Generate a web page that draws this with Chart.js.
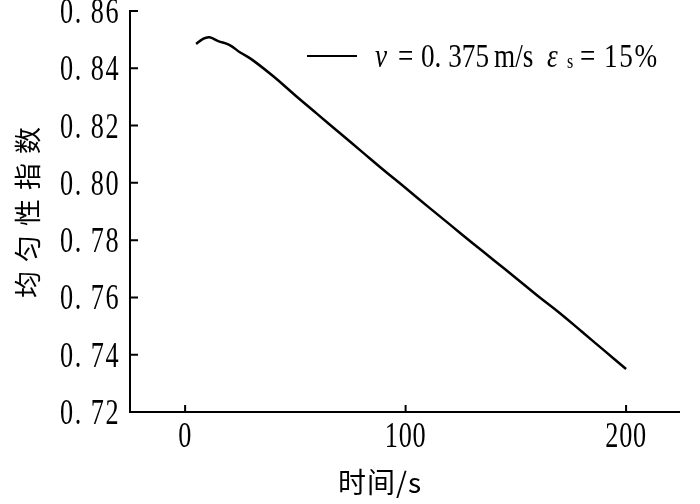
<!DOCTYPE html>
<html lang="zh">
  <head>
    <meta charset="utf-8" />
    <title>均匀性指数</title>
    <script src="https://cdn.jsdelivr.net/npm/chart.js"></script>
    <style>
      html, body { margin: 0; padding: 0; background: #fff; }
      .box { width: 700px; height: 504px; }
    </style>
  </head>
  <body>
    <div class="box"><canvas id="myChart"></canvas></div>
    <script>
      // time (s) and uniformity index
      var times = [5, 8, 11, 15, 20, 25, 30, 40, 50, 60, 70, 80, 90, 100, 110, 120, 130, 140, 150, 160, 170, 180, 190, 200];
      var uniformity = [0.8485, 0.8502, 0.8508, 0.8495, 0.8482, 0.8455, 0.8432, 0.8372, 0.8305, 0.8240, 0.8175, 0.8110, 0.8045, 0.7982, 0.7918, 0.7855, 0.7792, 0.7730, 0.7668, 0.7605, 0.7545, 0.7480, 0.7415, 0.7350];
      var xTicks = [0, 100, 200];
      var yTicks = [0.72, 0.74, 0.76, 0.78, 0.80, 0.82, 0.84, 0.86];
      var xTitle = '时间/s';
      var yTitle = '均匀性指数';

      var serif = '"Liberation Serif", serif';
      var cjk = '"Noto Sans CJK SC", sans-serif';

      // narrow, tall text like the printed figure
      function txt(c, str, x, y, font, align, sx, spacing) {
        c.save();
        c.font = font;
        c.letterSpacing = spacing || '0px';
        c.textAlign = align;
        c.textBaseline = 'alphabetic';
        c.translate(x, y);
        c.scale(sx, 1);
        c.fillText(str, 0, 0);
        c.restore();
      }

      // ticks pointing into the plot plus tick labels and titles
      var axisDeco = {
        id: 'axisDeco',
        afterDraw: function (chart) {
          var c = chart.ctx, x = chart.scales.x, y = chart.scales.y;
          c.save();
          c.strokeStyle = '#000';
          c.fillStyle = '#000';
          c.lineWidth = 2;
          c.beginPath();
          xTicks.forEach(function (v) {
            var px = x.getPixelForValue(v);
            c.moveTo(px, y.bottom);
            c.lineTo(px, y.bottom - 7);
          });
          yTicks.forEach(function (v) {
            var py = y.getPixelForValue(v);
            c.moveTo(x.left, py);
            c.lineTo(x.left + 8, py);
          });
          c.stroke();

          xTicks.forEach(function (v) {
            txt(c, String(v), x.getPixelForValue(v), y.bottom + 35, '35px ' + serif, 'center', 0.75, '1px');
          });
          yTicks.forEach(function (v) {
            var s = v.toFixed(2).replace('.', '. ');
            txt(c, s, x.left - 10, y.getPixelForValue(v) + 12, '35px ' + serif, 'right', 0.75, '2px');
          });

          txt(c, xTitle, 380, 493, '28px ' + cjk, 'center', 1, '1px');
          c.save();
          c.translate(38, 208);
          c.rotate(-Math.PI / 2);
          txt(c, yTitle, 0, 0, '27px ' + cjk, 'center', 1, '9px');
          c.restore();
          c.restore();
        }
      };

      // legend with italic symbols and subscript
      var legendText = {
        id: 'legendText',
        afterDraw: function (chart) {
          var c = chart.ctx;
          var base = 67;
          c.save();
          c.strokeStyle = '#000';
          c.fillStyle = '#000';
          c.lineWidth = 2;
          c.beginPath();
          c.moveTo(307, 56);
          c.lineTo(357, 56);
          c.stroke();
          var f = '34px ' + serif, fi = 'italic 34px ' + serif;
          txt(c, 'ν', 375, base, fi, 'left', 0.8);
          txt(c, '=', 398, base, f, 'left', 0.8);
          txt(c, '0. 375', 421, base, f, 'left', 0.8);
          txt(c, 'm/s', 494, base, f, 'left', 0.8);
          txt(c, 'ε', 547, base, fi, 'left', 0.8);
          txt(c, 's', 567, base + 1, '20px ' + serif, 'left', 0.8);
          txt(c, '=', 580, base, f, 'left', 0.8);
          txt(c, '15%', 604, base, f, 'left', 0.8, '2px');
          c.restore();
        }
      };

      var ctx = document.getElementById('myChart');
      new Chart(ctx, {
        type: 'line',
        data: {
          datasets: [{
            data: times.map(function (t, i) { return { x: t, y: uniformity[i] }; }),
            borderColor: '#000',
            borderWidth: 2.5,
            pointRadius: 0,
            tension: 0.4,
            fill: false
          }]
        },
        options: {
          responsive: true,
          maintainAspectRatio: false,
          animation: false,
          layout: { padding: { top: 11, right: 21, left: 0, bottom: 0 } },
          plugins: { legend: { display: false }, tooltip: { enabled: false } },
          scales: {
            x: {
              type: 'linear',
              min: -25,
              max: 224,
              afterFit: function (s) { s.height = 92; s.paddingLeft = 0; s.paddingRight = 0; },
              grid: { display: true, drawOnChartArea: false, drawTicks: false },
              border: { display: true, color: '#000', width: 2 },
              ticks: { display: false }
            },
            y: {
              min: 0.72,
              max: 0.86,
              afterFit: function (s) { s.width = 130; s.paddingTop = 0; s.paddingBottom = 0; },
              grid: { display: true, drawOnChartArea: false, drawTicks: false },
              border: { display: true, color: '#000', width: 2 },
              ticks: { display: false }
            }
          }
        },
        plugins: [axisDeco, legendText]
      });
    </script>
  </body>
</html>
